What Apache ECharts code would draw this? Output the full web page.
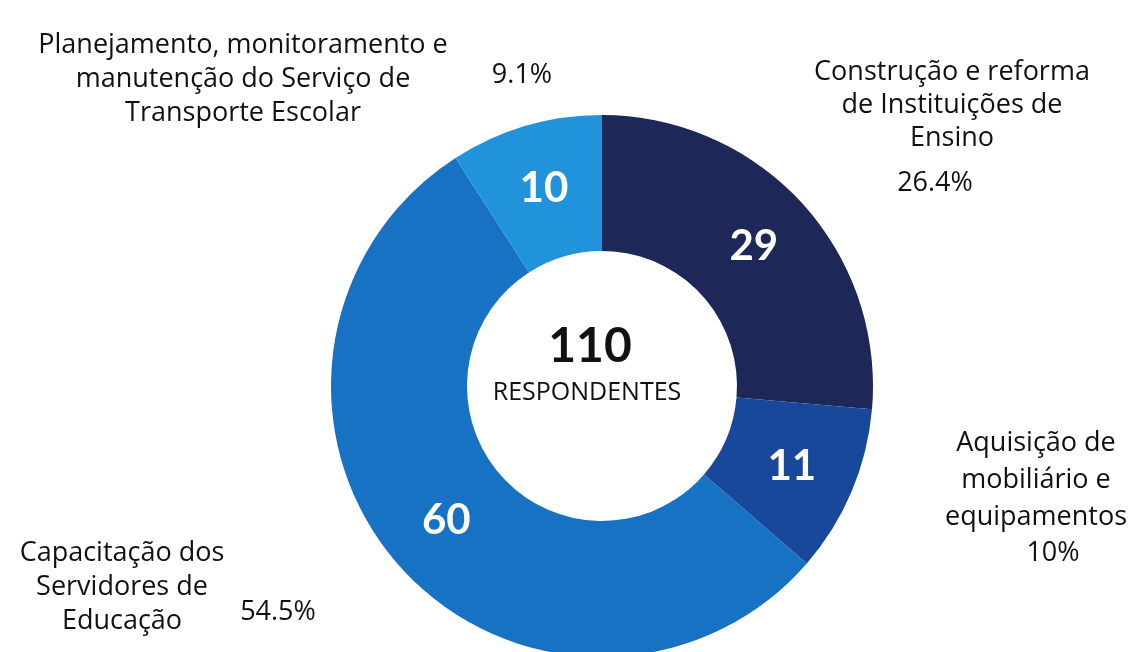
<!DOCTYPE html>
<html>
<head>
<meta charset="utf-8">
<script src="https://cdn.jsdelivr.net/npm/echarts@6/dist/echarts.min.js"></script>
<style>
  html, body { margin: 0; padding: 0; background: #fff; }
  #chart { width: 1139px; height: 652px; }
</style>
</head>
<body>
<div id="chart"></div>
<script>
// slices clockwise from 12 o'clock
const categories = [
  'Construção e reforma\nde Instituições de\nEnsino',
  'Aquisição de\nmobiliário e\nequipamentos',
  'Capacitação dos\nServidores de\nEducação',
  'Planejamento, monitoramento e\nmanutenção do Serviço de\nTransporte Escolar'
]
const values = [29, 11, 60, 10]
const percentLabels = ['26.4%', '10%', '54.5%', '9.1%']
const totalLabel = '110'
const totalCaption = 'RESPONDENTES'

const colors = ['#1d2758', '#18489a', '#1872c4', '#2093da']
const FONT = '"Open Sans", Lato, sans-serif'

// where each outside label sits (name block, then percent)
const namePos = [
  { x: 952, y: 105, lh: 33 },
  { x: 1036, y: 480, lh: 37 },
  { x: 122, y: 587, lh: 34 },
  { x: 243, y: 79, lh: 34 }
]
const pctPos = [
  { x: 935, y: 183 },
  { x: 1053, y: 553 },
  { x: 278, y: 612 },
  { x: 522, y: 75 }
]

const chart = echarts.init(document.getElementById('chart'))

const texts = []
categories.forEach((name, i) => {
  texts.push({
    type: 'text',
    x: namePos[i].x,
    y: namePos[i].y,
    style: {
      text: name,
      font: '27px ' + FONT,
      lineHeight: namePos[i].lh,
      fill: '#111',
      align: 'center',
      verticalAlign: 'middle'
    }
  })
  texts.push({
    type: 'text',
    x: pctPos[i].x,
    y: pctPos[i].y,
    style: {
      text: percentLabels[i],
      font: '27px ' + FONT,
      fill: '#111',
      align: 'center',
      verticalAlign: 'middle'
    }
  })
})
texts.push({
  type: 'text',
  x: 590,
  y: 347,
  style: { text: totalLabel, font: 'bold 48px Lato, sans-serif', fill: '#111', align: 'center', verticalAlign: 'middle' }
})
texts.push({
  type: 'text',
  x: 587,
  y: 393,
  style: { text: totalCaption, font: '25px ' + FONT, fill: '#111', align: 'center', verticalAlign: 'middle' }
})

chart.setOption({
  backgroundColor: '#fff',
  animation: false,
  color: colors,
  graphic: texts,
  series: [
    {
      type: 'pie',
      center: [602, 386],
      radius: [135, 271],
      startAngle: 90,
      clockwise: true,
      silent: true,
      data: values.map((v, i) => ({ value: v, name: categories[i] })),
      label: {
        show: true,
        position: 'inside',
        formatter: '{c}',
        color: '#fff',
        fontSize: 42,
        fontWeight: 'bold',
        fontFamily: 'Lato, sans-serif'
      },
      labelLine: { show: false },
      itemStyle: { borderWidth: 0 }
    }
  ]
})
</script>
</body>
</html>
